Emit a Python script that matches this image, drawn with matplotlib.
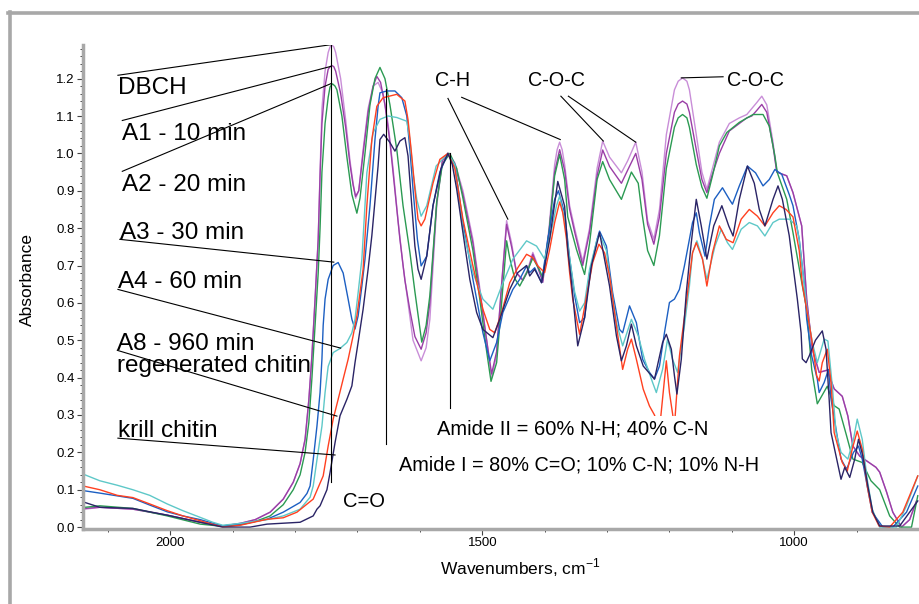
import matplotlib.pyplot as plt
import numpy as np
from matplotlib.lines import Line2D
from matplotlib.ticker import MultipleLocator

plt.rcParams['font.family'] = ['Liberation Sans', 'DejaVu Sans']
plt.rcParams['mathtext.fontset'] = 'custom'
plt.rcParams['mathtext.rm'] = 'Liberation Sans'

# ---- spectra: (wavenumber, absorbance) ----
dbch = [(2137, 0.048), (2113, 0.053), (2060, 0.048), (2005, 0.032), (1952, 0.013), (1916, 0.003),
        (1888, 0.010), (1864, 0.020), (1840, 0.040), (1819, 0.075), (1803, 0.120), (1792, 0.170),
        (1784, 0.235), (1778, 0.340), (1773, 0.460), (1768, 0.610), (1763, 0.770), (1760, 0.950),
        (1757, 1.120), (1752, 1.220), (1747, 1.270), (1744, 1.285), (1741, 1.290), (1738, 1.285),
        (1735, 1.270), (1727, 1.200),
        (1719, 1.090), (1712, 0.980), (1707, 0.920), (1703, 0.880), (1698, 0.900), (1691, 1.010),
        (1683, 1.120), (1675, 1.180), (1667, 1.190), (1659, 1.160), (1651, 1.080), (1643, 0.960),
        (1635, 0.820), (1627, 0.700), (1619, 0.600), (1611, 0.500), (1598, 0.445), (1590, 0.480),
        (1584, 0.556), (1573, 0.860), (1564, 0.980), (1555, 1.000), (1544, 0.975), (1531, 0.900),
        (1515, 0.770), (1504, 0.640), (1493, 0.500), (1485, 0.400), (1477, 0.460), (1469, 0.650),
        (1461, 0.820), (1453, 0.760), (1445, 0.680), (1435, 0.663), (1427, 0.690), (1419, 0.735),
        (1411, 0.700), (1403, 0.660), (1393, 0.800), (1384, 0.970), (1380, 1.010), (1376, 1.030),
        (1372, 1.010), (1368, 0.970),
        (1360, 0.860), (1352, 0.800), (1339, 0.710), (1328, 0.800), (1316, 0.960), (1307, 1.033),
        (1296, 0.990), (1277, 0.948), (1267, 0.980), (1254, 1.030), (1244, 0.950), (1235, 0.820),
        (1225, 0.770), (1216, 0.850), (1205, 1.050), (1192, 1.170), (1186, 1.193), (1179, 1.202),
        (1172, 1.193), (1168, 1.170),
        (1157, 1.050), (1148, 0.950), (1140, 0.904), (1131, 0.960), (1120, 1.030), (1104, 1.080),
        (1088, 1.095), (1076, 1.104), (1068, 1.120), (1060, 1.136), (1052, 1.153), (1044, 1.130),
        (1034, 1.030), (1028, 0.950), (1012, 0.940), (1002, 0.895), (988, 0.806), (980, 0.610),
        (971, 0.476), (960, 0.414), (947, 0.420), (936, 0.370), (923, 0.350), (914, 0.297),
        (906, 0.217), (895, 0.190), (869, 0.160), (863, 0.147), (852, 0.094), (842, 0.040),
        (828, 0.000), (815, 0.020), (804, 0.070)]

a1 = [(2137, 0.050), (2113, 0.053), (2060, 0.048), (2005, 0.032), (1952, 0.013), (1916, 0.003),
      (1888, 0.010), (1864, 0.020), (1840, 0.040), (1819, 0.075), (1803, 0.120), (1792, 0.170),
      (1784, 0.235), (1778, 0.340), (1773, 0.460), (1768, 0.610), (1763, 0.770), (1760, 0.940),
      (1757, 1.080), (1752, 1.180), (1747, 1.225), (1744, 1.232), (1741, 1.235), (1738, 1.232),
      (1735, 1.220), (1727, 1.160),
      (1719, 1.070), (1712, 0.970), (1707, 0.915), (1703, 0.885), (1698, 0.900), (1691, 1.000),
      (1683, 1.110), (1675, 1.180), (1669, 1.206), (1663, 1.190), (1656, 1.130), (1648, 1.030),
      (1640, 0.900), (1632, 0.770), (1624, 0.660), (1616, 0.580), (1608, 0.510), (1598, 0.476),
      (1590, 0.520), (1584, 0.600), (1573, 0.870), (1564, 0.980), (1555, 1.000), (1544, 0.970),
      (1531, 0.890), (1515, 0.760), (1504, 0.630), (1493, 0.500), (1485, 0.410), (1477, 0.470),
      (1469, 0.650), (1461, 0.810), (1453, 0.750), (1445, 0.680), (1435, 0.660), (1427, 0.685),
      (1419, 0.730), (1411, 0.695), (1403, 0.655), (1393, 0.790), (1384, 0.950), (1376, 1.010),
      (1368, 0.955), (1360, 0.850), (1352, 0.790), (1339, 0.700), (1328, 0.790), (1316, 0.940),
      (1307, 1.009), (1296, 0.965), (1277, 0.920), (1267, 0.955), (1254, 1.000), (1244, 0.930),
      (1235, 0.810), (1225, 0.757), (1216, 0.830), (1205, 1.000), (1192, 1.110), (1186, 1.132),
      (1179, 1.140), (1172, 1.132),
      (1168, 1.110), (1157, 1.010), (1148, 0.930), (1140, 0.895), (1131, 0.945), (1120, 1.000),
      (1104, 1.060), (1088, 1.080), (1076, 1.095), (1068, 1.100), (1060, 1.115), (1052, 1.131),
      (1044, 1.110), (1034, 1.020), (1028, 0.950), (1012, 0.940), (1002, 0.895), (988, 0.806),
      (980, 0.610), (971, 0.476), (960, 0.414), (947, 0.420), (936, 0.370), (923, 0.350),
      (914, 0.297), (906, 0.217), (895, 0.190), (869, 0.160), (863, 0.147), (852, 0.094),
      (842, 0.040), (828, 0.000), (815, 0.020), (804, 0.070)]

a2 = [(2137, 0.053), (2113, 0.057), (2060, 0.050), (2005, 0.030), (1952, 0.008), (1916, 0.002),
      (1888, 0.006), (1864, 0.015), (1840, 0.030), (1819, 0.060), (1803, 0.100), (1792, 0.140),
      (1784, 0.200), (1778, 0.280), (1773, 0.400), (1768, 0.540), (1763, 0.680), (1760, 0.800),
      (1757, 0.950), (1752, 1.080), (1747, 1.150), (1744, 1.178), (1740, 1.186), (1736, 1.180),
      (1733, 1.170), (1725, 1.100),
      (1717, 0.990), (1709, 0.890), (1701, 0.840), (1696, 0.880), (1688, 1.000), (1680, 1.130),
      (1672, 1.200), (1664, 1.230), (1656, 1.200), (1648, 1.130), (1637, 1.010), (1627, 0.860),
      (1616, 0.735), (1608, 0.630), (1597, 0.495), (1590, 0.540), (1584, 0.620), (1573, 0.870),
      (1564, 0.970), (1552, 1.000), (1541, 0.960), (1531, 0.880), (1515, 0.740), (1504, 0.610),
      (1493, 0.470), (1486, 0.390), (1477, 0.440), (1469, 0.600), (1461, 0.766), (1456, 0.720),
      (1448, 0.665), (1440, 0.645), (1429, 0.680), (1419, 0.720), (1409, 0.690), (1403, 0.668),
      (1393, 0.790), (1384, 0.940), (1376, 0.997), (1368, 0.930), (1363, 0.830), (1349, 0.743),
      (1336, 0.676), (1328, 0.760), (1316, 0.930), (1307, 0.978), (1296, 0.930), (1277, 0.877),
      (1261, 0.950), (1250, 0.920), (1244, 0.840), (1235, 0.740), (1225, 0.700), (1216, 0.780),
      (1205, 0.960), (1192, 1.070), (1186, 1.095), (1179, 1.104), (1172, 1.095), (1168, 1.070),
      (1157, 0.970), (1148, 0.910),
      (1140, 0.880), (1131, 0.940), (1120, 1.020), (1108, 1.056), (1088, 1.083), (1066, 1.104),
      (1050, 1.104), (1040, 1.073), (1031, 0.993), (1027, 0.948), (1012, 0.877), (1002, 0.788),
      (988, 0.655), (980, 0.583), (972, 0.422), (963, 0.330), (947, 0.377), (936, 0.325),
      (928, 0.316), (916, 0.244), (906, 0.182), (891, 0.173), (877, 0.124), (863, 0.100),
      (847, 0.030), (831, 0.000), (812, 0.000), (802, 0.084)]

a3 = [(2137, 0.097), (2113, 0.091), (2060, 0.077), (2033, 0.059), (2005, 0.041), (1980, 0.030),
      (1952, 0.020), (1916, 0.003), (1888, 0.008), (1845, 0.021), (1819, 0.040), (1792, 0.066),
      (1781, 0.090), (1776, 0.110), (1771, 0.180), (1765, 0.270), (1760, 0.360), (1757, 0.450),
      (1755, 0.540), (1752, 0.610), (1747, 0.663), (1739, 0.700), (1731, 0.708), (1723, 0.680),
      (1715, 0.610), (1709, 0.556), (1704, 0.530), (1699, 0.565), (1693, 0.645), (1688, 0.717),
      (1680, 0.860), (1672, 1.037), (1667, 1.126), (1664, 1.162), (1653, 1.167), (1640, 1.167),
      (1629, 1.149), (1621, 1.100), (1616, 1.010), (1611, 0.904), (1604, 0.770), (1598, 0.699),
      (1589, 0.725), (1579, 0.860), (1568, 0.950), (1555, 1.000), (1544, 0.970), (1531, 0.815),
      (1515, 0.663), (1499, 0.520), (1488, 0.445), (1477, 0.494), (1467, 0.574), (1451, 0.636),
      (1440, 0.663), (1429, 0.699), (1424, 0.681), (1416, 0.694), (1405, 0.654), (1395, 0.770),
      (1384, 0.877), (1378, 0.900), (1368, 0.840), (1360, 0.720), (1352, 0.620), (1344, 0.547),
      (1336, 0.560), (1328, 0.680), (1316, 0.770), (1312, 0.792), (1301, 0.752), (1291, 0.627),
      (1280, 0.529), (1275, 0.520), (1264, 0.592), (1253, 0.547), (1243, 0.449), (1232, 0.414),
      (1224, 0.396), (1216, 0.431), (1208, 0.520), (1200, 0.601), (1192, 0.610), (1184, 0.636),
      (1176, 0.699), (1168, 0.770), (1163, 0.815), (1157, 0.841), (1152, 0.788), (1143, 0.725),
      (1136, 0.806), (1128, 0.877), (1115, 0.908), (1104, 0.877), (1099, 0.864), (1088, 0.913),
      (1075, 0.966), (1062, 0.948), (1050, 0.913), (1040, 0.930), (1031, 0.957), (1020, 0.944),
      (1008, 0.890), (1002, 0.860), (992, 0.770), (984, 0.654), (980, 0.556), (972, 0.458),
      (963, 0.396), (960, 0.360), (952, 0.387), (945, 0.422), (941, 0.342), (925, 0.182),
      (916, 0.155), (905, 0.200), (897, 0.217), (891, 0.182), (883, 0.110), (875, 0.040),
      (858, 0.000), (842, 0.000), (820, 0.040), (802, 0.110)]

a4 = [(2137, 0.140), (2113, 0.124), (2085, 0.112), (2060, 0.100), (2033, 0.085), (2005, 0.062),
      (1980, 0.044), (1952, 0.026), (1932, 0.013), (1916, 0.005), (1888, 0.010), (1845, 0.020),
      (1819, 0.030), (1792, 0.048), (1776, 0.080), (1771, 0.110), (1765, 0.180), (1757, 0.270),
      (1752, 0.360), (1747, 0.430), (1739, 0.467), (1728, 0.478), (1717, 0.494), (1709, 0.520),
      (1704, 0.556), (1699, 0.627), (1693, 0.717), (1685, 0.948), (1675, 1.055), (1664, 1.091),
      (1651, 1.100), (1637, 1.096), (1621, 1.086), (1616, 1.037), (1611, 0.948), (1605, 0.877),
      (1598, 0.832), (1589, 0.860), (1574, 0.966), (1555, 1.000), (1544, 0.970), (1531, 0.797),
      (1515, 0.681), (1499, 0.610), (1483, 0.583), (1469, 0.645), (1451, 0.717), (1429, 0.766),
      (1413, 0.752), (1400, 0.717), (1392, 0.770), (1381, 0.860), (1376, 0.886), (1368, 0.820),
      (1360, 0.720), (1352, 0.630), (1344, 0.578), (1336, 0.600), (1328, 0.690), (1316, 0.770),
      (1312, 0.783), (1301, 0.740), (1296, 0.672), (1285, 0.547), (1275, 0.485), (1261, 0.556),
      (1250, 0.512), (1240, 0.449), (1227, 0.387), (1221, 0.360), (1211, 0.422), (1203, 0.503),
      (1195, 0.449), (1187, 0.414), (1176, 0.539), (1168, 0.645), (1163, 0.734), (1156, 0.766),
      (1147, 0.717), (1140, 0.663), (1127, 0.752), (1117, 0.797), (1107, 0.761), (1099, 0.743),
      (1085, 0.797), (1072, 0.815), (1059, 0.806), (1047, 0.779), (1034, 0.815), (1024, 0.824),
      (1008, 0.824), (996, 0.806), (992, 0.770), (979, 0.574), (971, 0.494), (963, 0.440),
      (952, 0.503), (946, 0.498), (939, 0.378), (933, 0.253), (925, 0.200), (914, 0.182),
      (905, 0.235), (899, 0.289), (891, 0.235), (883, 0.128), (875, 0.048), (863, 0.000),
      (836, 0.000), (820, 0.057), (802, 0.137)]

a8 = [(2137, 0.109), (2113, 0.100), (2085, 0.085), (2060, 0.079), (2033, 0.062), (2005, 0.044),
      (1980, 0.030), (1952, 0.017), (1916, 0.000), (1888, 0.005), (1845, 0.021), (1819, 0.025),
      (1797, 0.040), (1771, 0.075), (1755, 0.137), (1747, 0.217), (1739, 0.289), (1731, 0.342),
      (1723, 0.396), (1715, 0.449), (1707, 0.512), (1701, 0.565), (1696, 0.627), (1691, 0.690),
      (1685, 0.860), (1677, 1.037), (1669, 1.126), (1659, 1.149), (1637, 1.158), (1624, 1.140),
      (1619, 1.090), (1613, 0.993), (1608, 0.904), (1603, 0.824), (1598, 0.806), (1592, 0.824),
      (1579, 0.920), (1568, 0.984), (1555, 1.000), (1544, 0.960), (1531, 0.824), (1515, 0.699),
      (1499, 0.583), (1488, 0.529), (1480, 0.520), (1469, 0.574), (1456, 0.654), (1443, 0.694),
      (1429, 0.730), (1419, 0.721), (1411, 0.699), (1400, 0.681), (1392, 0.743), (1384, 0.815),
      (1376, 0.870), (1371, 0.841), (1365, 0.770), (1360, 0.681), (1355, 0.610), (1344, 0.516),
      (1323, 0.708), (1313, 0.757), (1304, 0.734), (1296, 0.672), (1285, 0.539), (1275, 0.422),
      (1267, 0.476), (1261, 0.503), (1253, 0.449), (1242, 0.369), (1232, 0.324), (1224, 0.300),
      (1216, 0.260), (1205, 0.445), (1200, 0.360), (1192, 0.270), (1184, 0.458), (1171, 0.627),
      (1163, 0.734), (1157, 0.761), (1147, 0.717), (1140, 0.645), (1131, 0.734), (1120, 0.806),
      (1109, 0.770), (1098, 0.761), (1085, 0.824), (1072, 0.850), (1059, 0.832), (1047, 0.806),
      (1034, 0.841), (1024, 0.860), (1013, 0.850), (1002, 0.830), (992, 0.740), (987, 0.650),
      (981, 0.592), (972, 0.503), (964, 0.405), (960, 0.391), (955, 0.440), (947, 0.476),
      (941, 0.387), (936, 0.253), (923, 0.173), (915, 0.150), (907, 0.209), (899, 0.257),
      (891, 0.209), (883, 0.110), (875, 0.040), (864, 0.003), (847, 0.000), (826, 0.040),
      (802, 0.137)]

krill = [(2137, 0.066), (2113, 0.053), (2060, 0.050), (2033, 0.041), (2005, 0.032), (1980, 0.023),
         (1952, 0.013), (1916, 0.000), (1872, 0.000), (1845, 0.008), (1792, 0.013), (1771, 0.030),
         (1765, 0.048), (1760, 0.057), (1749, 0.100), (1744, 0.146), (1736, 0.226), (1728, 0.298),
         (1717, 0.342), (1709, 0.378), (1704, 0.440), (1699, 0.494), (1691, 0.583), (1683, 0.690),
         (1677, 0.780), (1667, 0.966), (1664, 1.037), (1658, 1.051), (1648, 1.029), (1640, 1.006),
         (1632, 1.033), (1624, 1.042), (1619, 0.993), (1613, 0.860), (1608, 0.752), (1603, 0.690),
         (1598, 0.663), (1589, 0.725), (1579, 0.860), (1566, 0.960), (1555, 1.000), (1548, 0.970),
         (1541, 0.904), (1531, 0.788), (1520, 0.663), (1509, 0.574), (1499, 0.529), (1483, 0.507),
         (1472, 0.556), (1456, 0.636), (1443, 0.681), (1429, 0.700), (1424, 0.672), (1416, 0.690),
         (1405, 0.654), (1392, 0.770), (1379, 0.925), (1368, 0.859), (1363, 0.743), (1357, 0.654),
         (1347, 0.485), (1336, 0.560), (1325, 0.700), (1312, 0.788), (1296, 0.645), (1285, 0.512),
         (1277, 0.445), (1269, 0.485), (1261, 0.543), (1253, 0.485), (1242, 0.431), (1224, 0.396),
         (1211, 0.494), (1205, 0.516), (1197, 0.476), (1192, 0.405), (1188, 0.356), (1181, 0.449),
         (1173, 0.627), (1165, 0.761), (1157, 0.877), (1149, 0.806), (1140, 0.717), (1129, 0.806),
         (1116, 0.860), (1105, 0.806), (1098, 0.779), (1088, 0.877), (1075, 0.966), (1064, 0.920),
         (1056, 0.850), (1047, 0.806), (1034, 0.877), (1026, 0.913), (1019, 0.877), (1008, 0.780),
         (1002, 0.700), (995, 0.610), (989, 0.520), (987, 0.450), (981, 0.440), (976, 0.458),
         (966, 0.500), (955, 0.525), (949, 0.476), (944, 0.342), (941, 0.253), (925, 0.128),
         (919, 0.160), (911, 0.133), (903, 0.182), (897, 0.235), (890, 0.190), (882, 0.110),
         (874, 0.040), (863, 0.003), (831, 0.003), (815, 0.040), (802, 0.070)]

series = [("DBCH", dbch, '#c98ed8'), ("A1", a1, '#9a3ea6'), ("A2", a2, '#2b9a52'),
          ("A3", a3, '#1c5fc2'), ("A4", a4, '#5ec8c8'), ("A8", a8, '#ff4020'),
          ("krill", krill, '#2a2466')]

fig = plt.figure(figsize=(9.19, 6.04), dpi=100)
ax = fig.add_axes([0.0903, 0.1242, 0.9097, 0.8013])

for name, pts, col in series:
    arr = np.array(pts)
    ax.plot(arr[:, 0], arr[:, 1], color=col, lw=1.0, zorder=2)

ax.set_xlim(2140, 800)
ax.set_ylim(-0.005, 1.29)

# axes styling
for s in ['top', 'right']:
    ax.spines[s].set_visible(False)
for s in ['left', 'bottom']:
    ax.spines[s].set_color('#a8a8a8')
    ax.spines[s].set_linewidth(2.5)
ax.yaxis.set_minor_locator(MultipleLocator(0.02))
ax.xaxis.set_major_locator(MultipleLocator(500))
ax.xaxis.set_minor_locator(MultipleLocator(100))
yt = np.arange(0, 1.25, 0.1)
ax.set_yticks(yt)
ax.set_yticklabels(["%.1f" % t for t in yt])
ax.tick_params(axis='both', which='major', length=4, width=0.8, color='#444444',
               labelsize=9.5, pad=2)
ax.tick_params(axis='both', which='minor', length=2.5, width=0.7, color='#444444')

# ---- annotations ----
lab_fs = 17.5
k = dict(color='black', lw=0.8, zorder=3)
leaders = [((2084, 1.209), (1742, 1.291)), ((2077, 1.088), (1742, 1.233)),
           ((2077, 0.952), (1742, 1.187)), ((2081, 0.770), (1738, 0.709)),
           ((2084, 0.636), (1727, 0.479)), ((2085, 0.473), (1733, 0.297)),
           ((2084, 0.238), (1736, 0.193)),
           ((1742, 1.291), (1742, 0.120)), ((1654, 1.171), (1654, 0.222)),
           ((1552, 1.000), (1552, 0.318)),
           ((1555, 1.147), (1459, 0.824)), ((1533, 1.150), (1375, 1.037)),
           ((1374, 1.153), (1306, 1.033)), ((1362, 1.153), (1254, 1.030)),
           ((1181, 1.202), (1114, 1.205))]
for (x0, y0), (x1, y1) in leaders:
    ax.plot([x0, x1], [y0, y1], **k)

labels = [("DBCH", 2084, 1.158), ("A1 - 10 min", 2077, 1.035), ("A2 - 20 min", 2077, 0.899),
          ("A3 - 30 min", 2081, 0.770), ("A4 - 60 min", 2084, 0.639),
          ("A8 - 960 min", 2085, 0.473), ("regenerated chitin", 2085, 0.415),
          ("krill chitin", 2084, 0.240)]
for txt, x, y in labels:
    ax.text(x, y, txt, fontsize=lab_fs, ha='left', va='baseline', zorder=4)

ax.text(1723, 0.053, "C=O", fontsize=14.5, ha='left', va='baseline', zorder=4)
ax.text(1576, 1.179, "C-H", fontsize=14.2, ha='left', va='baseline', zorder=4)
ax.text(1427, 1.179, "C-O-C", fontsize=14.2, ha='left', va='baseline', zorder=4)
ax.text(1107, 1.179, "C-O-C", fontsize=14.2, ha='left', va='baseline', zorder=4)
ax.text(1573, 0.247, "Amide II = 60% N-H; 40% C-N", fontsize=14.5, ha='left',
        va='baseline', zorder=4,
        bbox=dict(facecolor='white', edgecolor='none', pad=3))
ax.text(1634, 0.151, "Amide I = 80% C=O; 10% C-N; 10% N-H", fontsize=14.3, ha='left',
        va='baseline', zorder=4)

fig.text(520 / 919, 1 - 568 / 604, "Wavenumbers, cm$^{-1}$", fontsize=12.5,
         ha='center', va='center')
fig.text(27 / 919, 1 - 279 / 604, "Absorbance", fontsize=12.5, rotation=90,
         ha='center', va='center')

# grey frame round the figure
fig.add_artist(Line2D([8 / 919, 1], [1 - 13.3 / 604] * 2, color='#a8a8a8', lw=2.6,
                      transform=fig.transFigure))
fig.add_artist(Line2D([9.5 / 919] * 2, [0, 1 - 12 / 604], color='#a8a8a8', lw=2.6,
                      transform=fig.transFigure))

fig.savefig("out.png", dpi=100)
